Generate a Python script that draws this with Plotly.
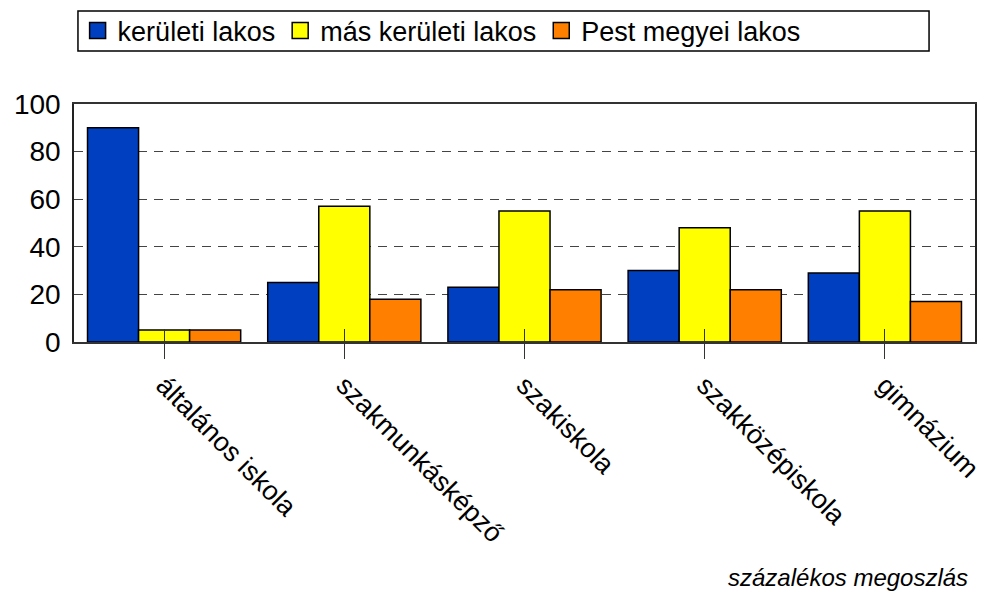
import plotly.graph_objects as go

# Adatok
kategoriak = ["általános iskola", "szakmunkásképző", "szakiskola", "szakközépiskola", "gimnázium"]
keruleti = [90, 25, 23, 30, 29]
mas_keruleti = [5, 57, 55, 48, 55]
pest_megyei = [5, 18, 22, 22, 17]
y_tickek = [0, 20, 40, 60, 80, 100]

sorozatok = [
    ("kerületi lakos", keruleti, "#0040C0"),
    ("más kerületi lakos", mas_keruleti, "#FFFF00"),
    ("Pest megyei lakos", pest_megyei, "#FF8000"),
]

BETU = "Liberation Sans, Arial, sans-serif"

fig = go.Figure()
for nev, ertekek, szin in sorozatok:
    fig.add_trace(go.Bar(x=kategoriak, y=ertekek, name=nev, showlegend=False,
                         marker=dict(color=szin, line=dict(color="black", width=1.5))))

# jelmagyarázat nagyobb négyzetekkel
for nev, ertekek, szin in sorozatok:
    fig.add_trace(go.Scatter(x=[None], y=[None], name=nev, mode="markers",
                             marker=dict(symbol="square", size=19, color=szin,
                                         line=dict(color="black", width=1.5))))

# láthatatlan trace a második (belső tickes) x tengelyhez
fig.add_trace(go.Scatter(x=kategoriak, y=[None] * len(kategoriak), xaxis="x2",
                         showlegend=False, hoverinfo="skip"))

# az oldal body-ja 8px margót ad, ezért a méretet ennyivel csökkentjük
fig.update_layout(
    width=993, height=584,
    margin=dict(l=66, r=26, t=96, b=250, autoexpand=False),
    paper_bgcolor="white", plot_bgcolor="white",
    barmode="group", bargap=0.15, bargroupgap=0,
    font=dict(family=BETU, size=27, color="black"),
    xaxis=dict(type="category", categoryarray=kategoriak, range=[-0.5, 4.5],
               tickangle=45, ticks="outside", ticklen=15, tickcolor="#333", tickwidth=1,
               showline=True, linecolor="#333", linewidth=1.5, mirror=True,
               showgrid=False, tickfont=dict(size=27)),
    xaxis2=dict(type="category", categoryarray=kategoriak, range=[-0.5, 4.5],
                overlaying="x", anchor="y", side="bottom",
                ticks="inside", ticklen=13, tickcolor="#333", tickwidth=1,
                showticklabels=False, showgrid=False, showline=False),
    yaxis=dict(range=[0, 100], tickvals=y_tickek, ticks="", showline=True,
               linecolor="#222", linewidth=1.5, mirror=True,
               showgrid=True, gridcolor="#444", griddash="9px,7px", gridwidth=1,
               zeroline=False, tickfont=dict(size=28), ticklabelstandoff=6),
    legend=dict(orientation="h", x=0.004, xanchor="left", y=1.307, yanchor="middle",
                font=dict(size=27), bgcolor="rgba(0,0,0,0)",
                itemwidth=30, tracegroupgap=0),
    showlegend=True,
    shapes=[dict(type="rect", xref="paper", yref="paper",
                 x0=0.0044, x1=0.949, y0=1.2227, y1=1.3908,
                 line=dict(color="black", width=1.5), fillcolor="rgba(0,0,0,0)")],
    annotations=[dict(text="<i>százalékos megoszlás</i>", xref="paper", yref="paper",
                      x=0.9945, y=-0.99, xanchor="right", yanchor="middle",
                      showarrow=False, font=dict(size=24))],
)

fig.write_html("out.html")
